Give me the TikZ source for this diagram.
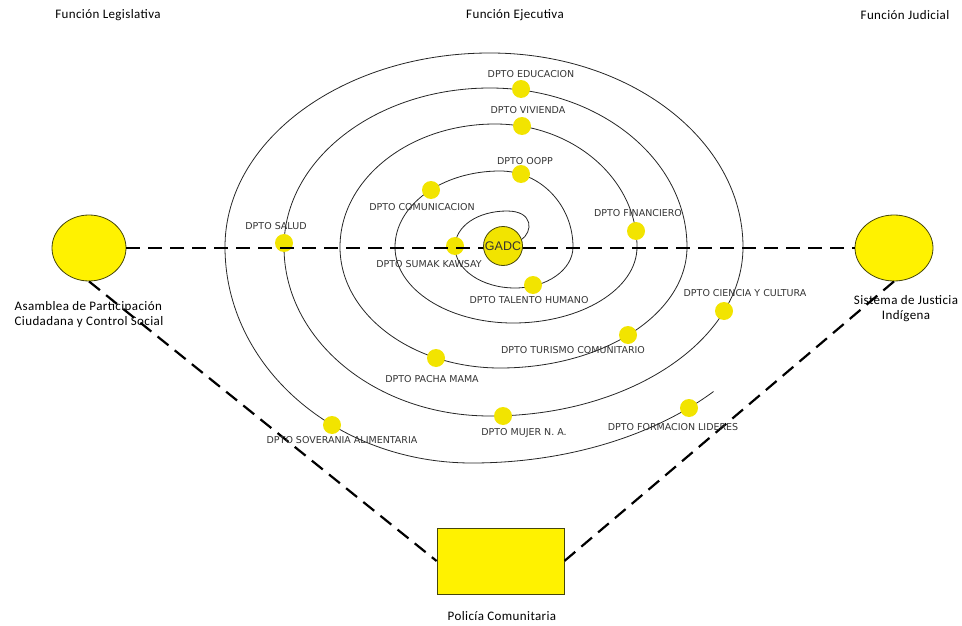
\documentclass[tikz,border=0pt]{standalone}
\usepackage{fontspec}
\usetikzlibrary{shapes.geometric}
\newfontfamily\funcfont[LetterSpace=3]{Carlito}
\newfontfamily\dptofont{DejaVu Sans}
\newfontfamily\gadcfont{Liberation Sans}
\definecolor{dotyellow}{RGB}{242,228,0}
\definecolor{rimolive}{RGB}{70,70,10}

\begin{document}
\begin{tikzpicture}[x=1pt, y=-1pt,
    dot/.style={circle, fill=dotyellow, minimum size=18pt, inner sep=0pt},
    dpto/.style={font=\dptofont\fontsize{9.5}{11}\selectfont, text=black!80, inner sep=0pt},
    funcion/.style={font=\funcfont\fontsize{13}{15}\selectfont, align=center, inner sep=0pt},
    organo/.style={ellipse, draw=rimolive, fill=yellow, line width=0.8pt, inner sep=0pt},
    enlace/.style={line width=2.2pt, dash pattern=on 14pt off 8pt},
    spiral/.style={line width=0.8pt, black!85}]
    \useasboundingbox (0,0) rectangle (962,626);

    % Spiral
    \draw[spiral] (521,240) .. controls (533,232) and (534,211) .. (507,211)
        .. controls (478,211) and (455,226) .. (455,247)
        arc[start angle=180, end angle=90, x radius=60, y radius=41]
        arc[start angle=90, end angle=0, x radius=58, y radius=41]
        arc[start angle=0, end angle=-90, x radius=73, y radius=76]
        arc[start angle=-90, end angle=-180, x radius=105, y radius=76]
        arc[start angle=180, end angle=90, x radius=118, y radius=76]
        arc[start angle=90, end angle=0, x radius=124, y radius=76]
        arc[start angle=0, end angle=-90, x radius=142, y radius=123]
        arc[start angle=-90, end angle=-180, x radius=155, y radius=123]
        arc[start angle=180, end angle=90, x radius=160, y radius=121]
        arc[start angle=90, end angle=0, x radius=187, y radius=121]
        arc[start angle=0, end angle=-90, x radius=197, y radius=159]
        arc[start angle=-90, end angle=-180, x radius=206, y radius=159]
        arc[start angle=180, end angle=90, x radius=206, y radius=169]
        arc[start angle=90, end angle=0, x radius=253, y radius=169]
        arc[start angle=0, end angle=-90, x radius=253, y radius=194]
        arc[start angle=-90, end angle=-180, x radius=265, y radius=194]
        arc[start angle=180, end angle=90, x radius=247, y radius=216]
        arc[start angle=90, end angle=42, x radius=325, y radius=216];

    % Departments
    \node[dot] (dEdu) at (521,89) {};
    \node[dot] (dViv) at (522,126) {};
    \node[dot] (dOopp) at (521,174) {};
    \node[dot] (dCom) at (431,190) {};
    \node[dot] (dFin) at (636,231) {};
    \node[dot] (dSalud) at (284,243) {};
    \node[dot] (dSumak) at (455,246) {};
    \node[dot] (dTal) at (533,285) {};
    \node[dot] (dCien) at (724,311) {};
    \node[dot] (dTur) at (628,335) {};
    \node[dot] (dPacha) at (436,358) {};
    \node[dot] (dSob) at (332,425) {};
    \node[dot] (dMujer) at (503,416) {};
    \node[dot] (dForm) at (689,408) {};

    % Functions
    \node[organo, minimum width=74pt, minimum height=66pt] (asamblea) at (89,248) {};
    \node[organo, minimum width=78pt, minimum height=66pt] (sistema) at (894,248) {};
    \node[draw=rimolive, fill=yellow, line width=0.8pt, minimum width=127pt, minimum height=66pt] (policia) at (500.5,561) {};

    % Links
    \draw[enlace] (asamblea) -- (sistema);
    \draw[enlace] (asamblea.south) -- (policia.west);
    \draw[enlace] (sistema.south) -- (policia.east);

    \node[circle, draw=rimolive, fill=dotyellow, line width=0.8pt, minimum size=39pt, inner sep=0pt,
        font=\gadcfont\fontsize{12.5}{14}\selectfont, text=black!80] (gadc) at (503,246) {GADC};

    % Labels
    \node[dpto] (lEdu) at (531,74) {DPTO EDUCACION};
    \node[dpto] (lViv) at (528,110) {DPTO VIVIENDA};
    \node[dpto] (lOopp) at (525,161) {DPTO OOPP};
    \node[dpto] (lCom) at (422,207) {DPTO COMUNICACION};
    \node[dpto] (lSalud) at (276,226) {DPTO SALUD};
    \node[dpto] (lSumak) at (429,264) {DPTO SUMAK KAWSAY};
    \node[dpto] (lTal) at (529,300) {DPTO TALENTO HUMANO};
    \node[dpto] (lFin) at (638,213) {DPTO FINANCIERO};
    \node[dpto] (lCien) at (745,293) {DPTO CIENCIA Y CULTURA};
    \node[dpto] (lTur) at (573,350) {DPTO TURISMO COMUNITARIO};
    \node[dpto] (lPacha) at (432,379) {DPTO PACHA MAMA};
    \node[dpto] (lSob) at (342,440) {DPTO SOVERANIA ALIMENTARIA};
    \node[dpto] (lMujer) at (524,433) {DPTO MUJER N. A.};
    \node[dpto] (lForm) at (673,427) {DPTO FORMACION LIDERES};

    \node[funcion] (tLeg) at (108,15) {Función Legislativa};
    \node[funcion] (tEje) at (515,15) {Función Ejecutiva};
    \node[funcion] (tJud) at (905,15) {Función Judicial};
    \node[funcion, align=left] (lAsamblea) at (89,315) {Asamblea de Participación\\Ciudadana y Control Social};
    \node[funcion] (lSistema) at (906,309) {Sistema de Justicia\\Indígena};
    \node[funcion] (lPolicia) at (502,616) {Policía Comunitaria};
\end{tikzpicture}
\end{document}
